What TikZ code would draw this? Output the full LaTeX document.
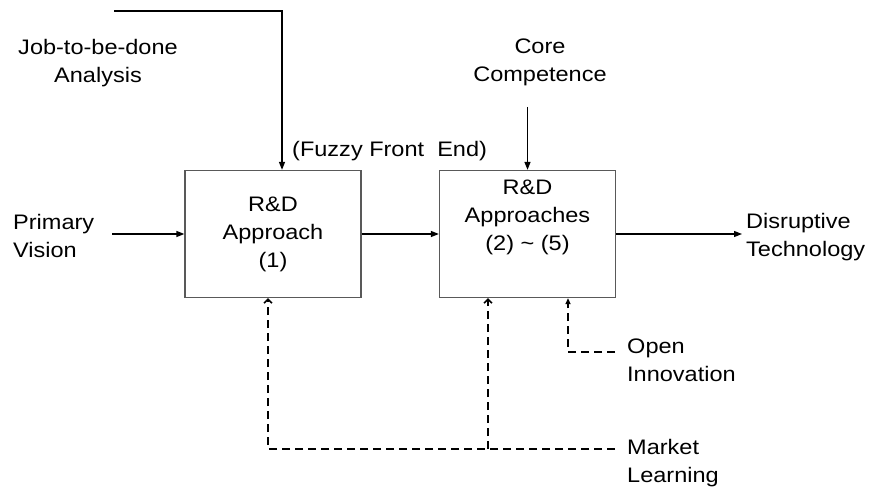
\documentclass[tikz,border=0pt]{standalone}
\usepackage{fontspec}
\setmainfont[FakeStretch=1.12]{Liberation Sans}
\usetikzlibrary{arrows.meta}

\begin{document}
\begin{tikzpicture}[x=1pt,y=-1pt,
        txt/.style={font=\fontsize{21}{28}\selectfont, align=center, inner sep=0pt},
        box/.style={draw=black!65, line width=1.3pt, minimum width=176pt, minimum height=127pt, inner sep=0pt},
        flow/.style={line width=1.3pt, -{Triangle[length=8pt,width=6pt]}},
        feed/.style={line width=1.5pt, dash pattern=on 8pt off 5pt, -{Straight Barb[length=4pt,width=8pt]}},
        feedin/.style={feed, -{Triangle[length=6pt,width=5pt]}}]
        \useasboundingbox (0,0) rectangle (872,497);
        % the two R&D boxes
        \node[box, txt] (rd1) at (273,234) {R\&D\\Approach\\(1)};
        \node[box] (rd2) at (527.5,234) {};
        \node[txt] (rd2lbl) at (527.5,217) {R\&D\\Approaches\\(2) \textasciitilde\ (5)};
        % inputs
        \node[txt] (job) at (98,63) {Job-to-be-done\\Analysis};
        \node[txt, anchor=west] (ffe) at (292,151) {(Fuzzy Front\ \ End)};
        \node[txt, align=left, anchor=west] (pv) at (13,236) {Primary\\Vision};
        \node[txt] (core) at (540,62) {Core\\Competence};
        \node[txt, align=left, anchor=west] (dt) at (746,237) {Disruptive\\Technology};
        \node[txt, align=left, anchor=west] (oi) at (627,360) {Open\\Innovation};
        \node[txt, align=left, anchor=west] (ml) at (627,463) {Market\\Learning};
        \coordinate (jobin) at (114,11);
        \coordinate (coreout) at (527.5,107);
        \coordinate (oicorner) at (568,352);
        \coordinate (mlcorner) at (268,449);
        \coordinate (mlsplit) at (488,449);
        % solid flow
        \draw[flow] (jobin) -| ([xshift=9pt]rd1.north);
        \draw[flow] ([xshift=18pt]pv.east |- rd1.west) -- (rd1.west);
        \draw[flow] (rd1.east) -- (rd2.west);
        \draw[flow] (coreout) -- (rd2.north);
        \draw[flow] (rd2.east) -- ([xshift=-4pt]dt.west |- rd2.east);
        % dashed feedback
        \draw[feedin] ([xshift=-12pt]oi.west |- oicorner) -- (oicorner) -- (oicorner |- rd2.south);
        \draw[feed] ([xshift=-12pt]ml.west |- mlcorner) -- (mlcorner) -- (mlcorner |- rd1.south);
        \draw[feed] (mlsplit) -- (mlsplit |- rd2.south);
\end{tikzpicture}
\end{document}
